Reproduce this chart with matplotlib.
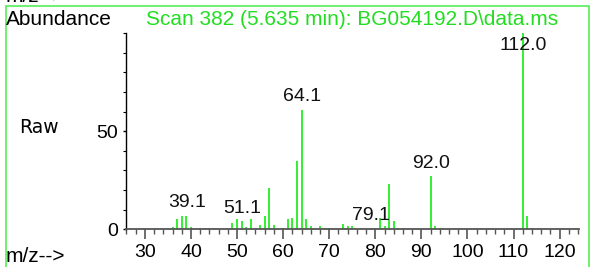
import matplotlib
matplotlib.use("Agg")
import matplotlib.pyplot as plt
from matplotlib.ticker import MultipleLocator
from matplotlib.patches import Rectangle

mz = [36, 37, 38, 39, 40, 42, 43, 44, 45, 49, 50, 51, 52, 53, 55, 56, 57, 58,
      60, 61, 62, 63, 64, 65, 66, 68, 69, 70, 71, 73, 74, 75, 76, 77, 79, 80,
      81, 82, 83, 84, 85, 86, 92, 93, 94, 112, 113, 114]
abundance = [1, 5, 7, 7, 1, 0.7, 0.7, 0.7, 0.5, 3, 5, 4, 1, 5, 2, 7, 21, 2,
             0.7, 5, 6, 35, 61, 5, 1.5, 1.5, 0.7, 0.7, 0.3, 2.5, 1.5, 1.5, 0.4, 0.3, 0.7, 0.7,
             6, 1.5, 23, 4, 0.7, 0.5, 27, 1.5, 0.7, 100, 7, 0.7]

label_mz = [39.1, 51.1, 64.1, 79.1, 92.0, 112.0]
label_peak = [7, 4, 61, 0.7, 27, 100]
label_text = ["39.1", "51.1", "64.1", "79.1", "92.0", "112.0"]

x_ticks = [30, 40, 50, 60, 70, 80, 90, 100, 110, 120]
y_ticks = [0, 50]

W, H = 590, 267
fig = plt.figure(figsize=(W / 100, H / 100), dpi=100)
fig.patch.set_facecolor("white")

left, right, bottom, top = 126, 579, 229.3, 33
ax = fig.add_axes([left / W, (H - bottom) / H, (right - left) / W, (bottom - top) / H])

green = "#22ee22"
ax.vlines(mz, 0, abundance, colors=green, linewidth=1.3)

font = "Liberation Sans"
for x, h, t in zip(label_mz, label_peak, label_text):
    ax.annotate(t, xy=(x, min(h, 87)), xytext=(0, 3), textcoords="offset points",
                ha="center", va="bottom", fontsize=14, family=font, color="#111111")

ax.set_xlim(25.9, 124.2)
ax.set_ylim(0, 100)
ax.set_xticks(x_ticks)
ax.set_xticklabels([str(v) for v in x_ticks], family=font, fontsize=14)
ax.xaxis.set_minor_locator(MultipleLocator(2))
ax.set_yticks(y_ticks)
ax.set_yticklabels([str(v) for v in y_ticks], family=font, fontsize=14)
ax.yaxis.set_minor_locator(MultipleLocator(10))

ax.tick_params(axis="x", which="major", direction="out", length=7.5, width=1.2,
               color="#555555", pad=3)
ax.tick_params(axis="x", which="minor", direction="out", length=3.5, width=1.0,
               color="#555555")
ax.tick_params(axis="y", which="major", direction="out", length=2, width=1, pad=4)
ax.tick_params(axis="y", which="minor", direction="out", length=2, width=0.8)

for s in ["top", "right"]:
    ax.spines[s].set_visible(False)
ax.spines["bottom"].set_color("#555555")
ax.spines["bottom"].set_linewidth(1.3)
ax.spines["left"].set_color("black")
ax.spines["left"].set_linewidth(1.0)
ax.set_facecolor("white")
ax.patch.set_alpha(0)

# frame
fig.add_artist(Rectangle((5.5 / W, -0.05), (588.5 - 5.5) / W, 1.05 - 5.5 / H,
                         transform=fig.transFigure, fill=False,
                         edgecolor="#55ee55", linewidth=1.2))

fig.text(6 / W, 1 - 2 / H, "m/z-->", family=font, fontsize=15, va="baseline", ha="left")
fig.text(6 / W, 1 - 25 / H, "Abundance", family=font, fontsize=15, va="baseline", ha="left")
fig.text((left + right) / 2 / W, 1 - 25 / H, "Scan 382 (5.635 min): BG054192.D\\data.ms",
         family=font, fontsize=15, va="baseline", ha="center", color="#22dd22")
fig.text(19 / W, 1 - 133 / H, "Raw", family="DejaVu Sans", fontsize=13.5, va="baseline", ha="left")
fig.text(6 / W, 1 - 262 / H, "m/z-->", family=font, fontsize=15, va="baseline", ha="left")

fig.savefig("out.png", dpi=100, facecolor="white")
